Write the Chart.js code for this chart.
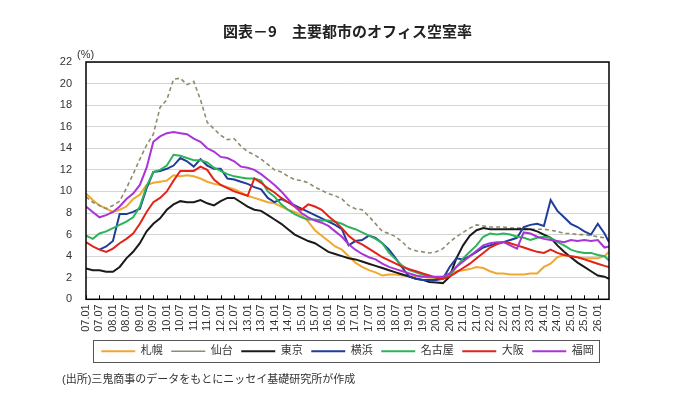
<!DOCTYPE html>
<html lang="ja">
<head>
<meta charset="utf-8">
<title>主要都市のオフィス空室率</title>
<script src="https://cdn.jsdelivr.net/npm/chart.js@4.4.1/dist/chart.umd.min.js"></script>
<style>
  html, body { margin: 0; padding: 0; background: #fff; }
  #wrap { width: 680px; height: 406px; }
</style>
</head>
<body>
<div id="wrap"><canvas id="myChart" width="680" height="406"></canvas></div>
<script>
// 空室率(%)を四半期ごとにグラフから読み取り(最後は26.06の右端)
let periods = [
  '07.01', '07.04', '07.07', '07.10', '08.01', '08.04', '08.07', '08.10',
  '09.01', '09.04', '09.07', '09.10', '10.01', '10.04', '10.07', '10.10',
  '11.01', '11.04', '11.07', '11.10', '12.01', '12.04', '12.07', '12.10',
  '13.01', '13.04', '13.07', '13.10', '14.01', '14.04', '14.07', '14.10',
  '15.01', '15.04', '15.07', '15.10', '16.01', '16.04', '16.07', '16.10',
  '17.01', '17.04', '17.07', '17.10', '18.01', '18.04', '18.07', '18.10',
  '19.01', '19.04', '19.07', '19.10', '20.01', '20.04', '20.07', '20.10',
  '21.01', '21.04', '21.07', '21.10', '22.01', '22.04', '22.07', '22.10',
  '23.01', '23.04', '23.07', '23.10', '24.01', '24.04', '24.07', '24.10',
  '25.01', '25.04', '25.07', '25.10', '26.01', '26.04', '26.06'
];
let tickLabels = [
  '07.01', '07.07', '08.01', '08.07', '09.01', '09.07', '10.01', '10.07',
  '11.01', '11.07', '12.01', '12.07', '13.01', '13.07', '14.01', '14.07',
  '15.01', '15.07', '16.01', '16.07', '17.01', '17.07', '18.01', '18.07',
  '19.01', '19.07', '20.01', '20.07', '21.01', '21.07', '22.01', '22.07',
  '23.01', '23.07', '24.01', '24.07', '25.01', '25.07', '26.01'
];

let sapporo = [
  9.8, 9.2, 8.7, 8.4, 8.1, 8.3, 8.6, 9.3, 9.7, 10.6, 10.8, 10.9, 11.0, 11.5,
  11.4, 11.5, 11.4, 11.2, 10.9, 10.7, 10.6, 10.4, 10.2, 9.9, 9.6, 9.4, 9.2, 9.0,
  8.9, 8.6, 8.3, 8.1, 7.8, 7.2, 6.4, 5.9, 5.4, 4.9, 4.6, 4.0, 3.4,
  3.0, 2.7, 2.5, 2.2, 2.3, 2.3, 2.2, 2.2, 2.1, 2.1, 2.0, 2.0, 2.0, 2.3, 2.6, 2.7, 2.8, 3.0,
  2.9, 2.6, 2.4, 2.4, 2.3, 2.3, 2.3, 2.4, 2.4, 3.0, 3.3, 3.9, 4.1, 4.0, 3.9, 3.8, 3.8, 3.8, 4.0, 4.4
];
let sendai = [
  9.5, 9.0, 8.7, 8.4, 8.7, 9.1, 10.3, 11.6, 13.0, 14.3, 15.3, 17.8,
  18.5, 20.4, 20.5, 19.9, 20.2, 18.5, 16.4, 15.8, 15.2, 14.8, 14.9, 14.2, 13.7,
  13.4, 13.0, 12.5, 12.0, 11.8, 11.4, 11.1, 11.0, 10.8, 10.4, 10.1, 9.8, 9.6, 9.3, 8.7, 8.4,
  8.3, 7.7, 7.0, 6.3, 6.1, 5.8, 5.3, 4.7, 4.5, 4.4, 4.3, 4.4, 4.7, 5.3, 5.8, 6.2, 6.6, 6.9,
  6.8, 6.7, 6.7, 6.7, 6.6, 6.6, 6.6, 6.5, 6.5, 6.5, 6.4, 6.3, 6.1, 6.1, 6.0, 6.0, 5.9, 5.8, 5.7, 5.5
];
let tokyo = [
  2.85, 2.7, 2.7, 2.55, 2.55, 3.0, 3.8, 4.4, 5.2, 6.3, 7.0, 7.5, 8.3, 8.8,
  9.1, 9.0, 9.0, 9.2, 8.9, 8.7, 9.1, 9.4, 9.4, 9.0, 8.6,
  8.3, 8.2, 7.8, 7.4, 7.0, 6.5, 6.0, 5.7, 5.4, 5.2, 4.8, 4.4, 4.2, 4.0, 3.8,
  3.7, 3.5, 3.3, 3.1, 2.9, 2.7, 2.5, 2.3, 2.1, 1.9, 1.8, 1.6, 1.55, 1.5, 2.1, 3.8, 5.0, 5.9, 6.4,
  6.6, 6.5, 6.5, 6.5, 6.5, 6.5, 6.5, 6.5, 6.3, 6.0, 5.7, 5.0, 4.4, 3.9, 3.4, 3.0, 2.6, 2.2, 2.1, 1.9
];
let yokohama = [
  null, null, 4.6, 4.9, 5.4, 7.9, 7.9, 8.1, 8.4, 10.3, 11.8, 11.9, 12.1, 12.4,
  13.1, 12.8, 12.3, 13.0, 12.4, 12.1, 12.1, 11.2, 11.1, 10.9, 10.7,
  10.4, 10.2, 9.4, 9.0, 9.3, 9.0, 8.7, 8.4, 8.1, 7.8, 7.5, 7.2, 6.9, 6.5,
  5.0, 5.4, 5.5, 5.9, 5.7, 5.2, 4.6, 3.8, 2.9, 2.1, 1.9, 1.8, 1.8, 1.8, 1.9, 3.0, 3.8, 3.7, 4.0,
  4.4, 4.8, 5.0, 5.2, 5.3, 5.5, 5.7, 6.7, 6.9, 7.0, 6.8, 9.2, 8.2, 7.6, 7.0, 6.7, 6.3, 6.0, 7.0, 6.1, 5.3
];
let nagoya = [
  5.9, 5.6, 6.1, 6.3, 6.6, 6.9, 7.2, 7.6, 8.6, 10.5, 11.8, 12.0, 12.4, 13.4,
  13.3, 13.1, 12.9, 12.9, 12.7, 12.2, 11.9, 11.6, 11.4, 11.3, 11.2,
  11.2, 11.0, 10.0, 9.5, 8.8, 8.3, 7.9, 7.6, 7.4, 7.4, 7.3, 7.3, 7.2, 7.0, 6.7, 6.5,
  6.2, 5.9, 5.6, 5.2, 4.3, 3.7, 3.1, 2.7, 2.5, 2.3, 2.1, 2.0, 1.9, 2.2, 3.0, 3.8, 4.4,
  5.0, 5.8, 6.1, 6.0, 6.1, 6.0, 5.8, 5.7, 5.5, 5.7, 5.8, 5.7, 5.3, 5.0, 4.6, 4.4, 4.3, 4.3, 4.1, 4.0, 3.6
];
let osaka = [
  5.3, 4.9, 4.6, 4.4, 4.7, 5.2, 5.6, 6.1, 7.0, 8.1, 9.0, 9.4, 10.0, 11.0,
  11.9, 11.9, 11.9, 12.3, 12.0, 11.1, 10.6, 10.3, 10.0, 9.8, 9.6,
  11.2, 10.8, 10.3, 9.9, 9.4, 9.0, 8.6, 8.3, 8.8, 8.6, 8.3, 7.7, 7.2, 6.6,
  5.9, 5.4, 5.1, 4.7, 4.3, 3.9, 3.6, 3.3, 3.0, 2.8, 2.6, 2.4, 2.2, 2.0, 1.9, 2.1, 2.5, 2.9, 3.3,
  3.8, 4.3, 4.8, 5.1, 5.3, 5.2, 5.0, 4.8, 4.6, 4.4, 4.3, 4.6, 4.3, 4.1, 4.0, 3.9, 3.7, 3.5, 3.3, 3.1, 3.0
];
let fukuoka = [
  8.6, 8.1, 7.6, 7.8, 8.1, 8.6, 9.3, 9.8, 10.6, 12.2, 14.6, 15.1, 15.4, 15.5,
  15.4, 15.3, 14.9, 14.6, 14.0, 13.7, 13.2, 13.1, 12.8, 12.3, 12.2,
  12.0, 11.6, 11.1, 10.6, 10.0, 9.3, 8.6, 8.0, 7.6, 7.3, 7.1, 6.8, 6.3, 5.8,
  5.1, 4.6, 4.2, 3.9, 3.7, 3.3, 3.0, 2.8, 2.6, 2.4, 2.2, 2.1, 2.1, 2.1, 2.1, 2.4, 3.0, 3.5, 4.0,
  4.5, 5.0, 5.2, 5.3, 5.3, 5.0, 4.7, 6.2, 6.1, 5.8, 5.6, 5.5, 5.4, 5.3, 5.5, 5.4, 5.5, 5.4, 5.5, 4.8, 4.9
];

let cities = ['札幌', '仙台', '東京', '横浜', '名古屋', '大阪', '福岡'];
let series = [sapporo, sendai, tokyo, yokohama, nagoya, osaka, fukuoka];
let colorHex = ['#f0a830', '#8f8b6e', '#1a1a1a', '#1f3d99', '#2fb35a', '#e2231a', '#a835d6'];
let sourceNote = '(出所)三鬼商事のデータをもとにニッセイ基礎研究所が作成';

// 'YY.MM' -> 2007年1月からの月数
let months = periods.map(p => (Number(p.slice(0, 2)) - 7) * 12 + Number(p.slice(3)) - 1);

// 枠線、目盛り、(%)、凡例の枠
let frame = {
  id: 'frame',
  afterLayout(chart) {
    // 出所の行を元図のように少し右へ
    let sub = chart.boxes.find(b => b.options && b.options.text === sourceNote);
    if (sub) { sub.left += 12; sub.right += 12; }
  },
  afterDatasetsDraw(chart) {
    let { ctx, chartArea: a, scales: { x } } = chart;
    ctx.save();
    ctx.strokeStyle = '#000';
    ctx.lineWidth = 1.5;
    ctx.strokeRect(a.left, a.top, a.width, a.height);
    ctx.lineWidth = 1;
    ctx.beginPath();
    tickLabels.forEach((t, i) => {
      let px = Math.round(x.getPixelForValue(i * 6)) + 0.5;
      ctx.moveTo(px, a.bottom);
      ctx.lineTo(px, a.bottom - 4);
    });
    ctx.stroke();

    ctx.fillStyle = '#333';
    ctx.font = '11px "Liberation Sans", sans-serif';
    ctx.textBaseline = 'middle';
    ctx.fillText('(%)', a.left - 9, a.top - 7);

    let boxes = chart.legend.legendHitBoxes;
    if (boxes && boxes.length) {
      let left = Math.min(...boxes.map(b => b.left)) - 8;
      let right = Math.max(...boxes.map(b => b.left + b.width)) + 6;
      let top = boxes[0].top - 5.5;
      ctx.strokeStyle = '#555';
      ctx.strokeRect(Math.round(left) + 0.5, Math.round(top) + 0.5, Math.round(right - left), 22);
    }
    ctx.restore();
  }
};

Chart.defaults.font.family = '"Liberation Sans", "Noto Sans CJK JP", sans-serif';

let ctx = document.getElementById('myChart').getContext('2d');
let myChart = new Chart(ctx, {
  type: 'line',
  data: {
    datasets: cities.map((name, i) => ({
      label: name,
      data: series[i].map((v, j) => ({ x: months[j], y: v })),
      borderColor: colorHex[i],
      backgroundColor: colorHex[i],
      borderWidth: i === 1 ? 1.6 : 2,
      borderDash: i === 1 ? [4, 3] : [],
      pointRadius: 0,
      tension: 0,
      order: cities.length - 1 - i
    }))
  },
  options: {
    responsive: false,
    animation: false,
    layout: { padding: { left: 50, right: 71, top: 0, bottom: 19 } },
    scales: {
      x: {
        type: 'linear',
        min: 0,
        max: 233,
        afterFit: (s) => { s.height = 38; },
        afterBuildTicks: (s) => { s.ticks = tickLabels.map((t, i) => ({ value: i * 6 })); },
        grid: { display: false, drawTicks: false },
        border: { display: false },
        ticks: {
          autoSkip: false,
          minRotation: 90,
          maxRotation: 90,
          padding: 5,
          color: '#333',
          font: { size: 11 },
          callback: (v) => tickLabels[v / 6] || ''
        }
      },
      y: {
        min: 0,
        max: 22,
        afterFit: (s) => { s.width = 36; },
        grid: { color: '#d4d4d4', drawTicks: false },
        border: { display: false },
        ticks: { stepSize: 2, padding: 14, color: '#333', font: { size: 11 } }
      }
    },
    plugins: {
      title: {
        display: true,
        fullSize: false,
        text: '図表－9　主要都市のオフィス空室率',
        color: '#222',
        font: { size: 15, weight: 'bold', family: '"Noto Sans CJK JP", sans-serif' },
        padding: { top: 22, bottom: 22 }
      },
      subtitle: {
        display: true,
        position: 'bottom',
        align: 'start',
        text: sourceNote,
        color: '#333',
        font: { size: 11 },
        padding: { top: 7, bottom: 0 }
      },
      legend: {
        position: 'bottom',
        fullSize: false,
        labels: {
          usePointStyle: true,
          pointStyle: 'line',
          pointStyleWidth: 34,
          padding: 8.5,
          color: '#333',
          font: { size: 11 },
          sort: (a, b) => a.datasetIndex - b.datasetIndex
        }
      },
      tooltip: { enabled: false }
    }
  },
  plugins: [frame]
});
</script>
</body>
</html>
